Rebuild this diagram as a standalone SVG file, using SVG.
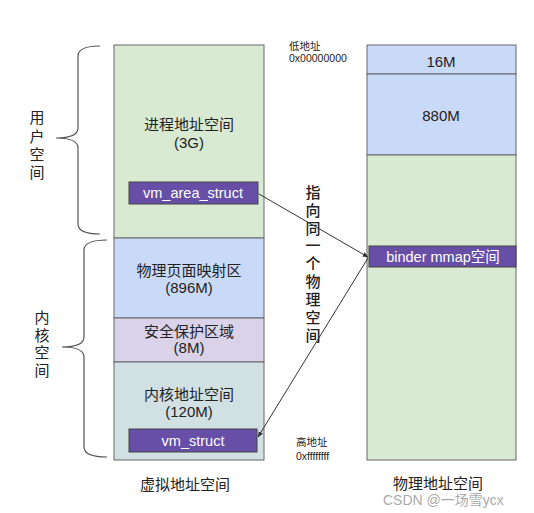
<svg xmlns="http://www.w3.org/2000/svg" width="534" height="513" viewBox="0 0 534 513">
<defs>
<style>
text{font-family:"Liberation Sans","Noto Sans CJK SC",sans-serif;fill:#222;}
.lbl{font-size:15px;text-anchor:middle;}
.w{fill:#fff;font-size:14.5px;text-anchor:middle;}
.sm{font-size:10.5px;}
.blk{stroke:#666;stroke-width:1;}
.pb{fill:#674ea7;stroke:#444;stroke-width:1;}
.br{fill:none;stroke:#555;stroke-width:1.2;}
.cn{stroke:#333;stroke-width:1;fill:none;marker-end:url(#ah);}
.wm{font-size:14px;fill:#aaa;}
</style>
<marker id="ah" viewBox="0 0 10 10" refX="9" refY="5" markerWidth="6" markerHeight="6" orient="auto"><path d="M0,1 L10,5 L0,9 z" fill="#333"/></marker>
</defs>
<rect width="534" height="513" fill="#fff"/>

<g id="virtual">
<rect class="blk" x="114" y="45" width="150" height="193" fill="#d9ead3"/>
<text class="lbl" x="189" y="130">进程地址空间</text>
<text class="lbl" x="189" y="148">(3G)</text>
<rect class="blk" x="114" y="238" width="150" height="80" fill="#c9daf8"/>
<text class="lbl" x="189" y="276">物理页面映射区</text>
<text class="lbl" x="189" y="293">(896M)</text>
<rect class="blk" x="114" y="318" width="150" height="44" fill="#d9d2e9"/>
<text class="lbl" x="189" y="337">安全保护区域</text>
<text class="lbl" x="189" y="353">(8M)</text>
<rect class="blk" x="114" y="362" width="150" height="98" fill="#d0e0e3"/>
<text class="lbl" x="189" y="400">内核地址空间</text>
<text class="lbl" x="189" y="417">(120M)</text>
<text class="lbl" x="185" y="490">虚拟地址空间</text>
</g>

<g id="vm_area_struct">
<rect class="pb" x="129" y="182" width="129" height="22"/>
<text class="w" x="193" y="198">vm_area_struct</text>
</g>
<g id="vm_struct">
<rect class="pb" x="129" y="429" width="128" height="23"/>
<text class="w" x="193" y="446">vm_struct</text>
</g>

<g id="physical">
<rect class="blk" x="367" y="45" width="149" height="29" fill="#c9daf8"/>
<text class="lbl" x="441" y="67">16M</text>
<rect class="blk" x="367" y="74" width="149" height="81" fill="#c9daf8"/>
<text class="lbl" x="441" y="121">880M</text>
<rect class="blk" x="367" y="155" width="149" height="305" fill="#d9ead3"/>
<text class="lbl" x="438" y="489">物理地址空间</text>
</g>
<g id="binder">
<rect class="pb" x="369" y="246" width="147" height="21"/>
<text class="w" x="443" y="262">binder mmap空间</text>
</g>

<g id="braces">
<path class="br" d="M100,46 Q78,46 78,56 L78,128 Q78,138 56,138 Q78,138 78,148 L78,224 Q78,234 100,234"/>
<path class="br" d="M107,240 Q84,240 84,250 L84,337 Q84,347 62,347 Q84,347 84,357 L84,447 Q84,457 107,457"/>
<text class="lbl" x="37" y="123">用</text>
<text class="lbl" x="37" y="142">户</text>
<text class="lbl" x="37" y="160">空</text>
<text class="lbl" x="37" y="178">间</text>
<text class="lbl" x="42" y="323">内</text>
<text class="lbl" x="42" y="341">核</text>
<text class="lbl" x="42" y="358">空</text>
<text class="lbl" x="42" y="376">间</text>
</g>

<g id="addresses">
<text class="sm" x="289" y="50">低地址</text>
<text class="sm" x="289" y="62">0x00000000</text>
<text class="sm" x="296" y="446">高地址</text>
<text class="sm" x="296" y="460">0xffffffff</text>
</g>

<g id="note" font-weight="500">
<text class="lbl" x="313" y="198">指</text>
<text class="lbl" x="313" y="216">向</text>
<text class="lbl" x="313" y="234">同</text>
<text class="lbl" x="313" y="251">一</text>
<text class="lbl" x="313" y="269">个</text>
<text class="lbl" x="313" y="287">物</text>
<text class="lbl" x="313" y="305">理</text>
<text class="lbl" x="313" y="323">空</text>
<text class="lbl" x="313" y="341">间</text>
</g>

<g id="connectors">
<line class="cn" x1="259" y1="194" x2="368" y2="257"/>
<line class="cn" x1="368" y1="258" x2="258" y2="437"/>
</g>

<text class="wm" x="383" y="505">CSDN @一场雪ycx</text>
</svg>
